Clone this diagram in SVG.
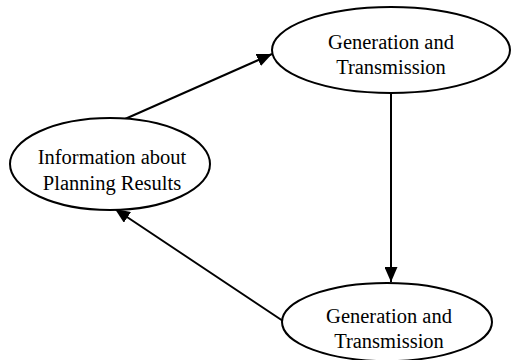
<svg xmlns="http://www.w3.org/2000/svg" width="511" height="360" viewBox="0 0 511 360">
<defs>
<style>
.node ellipse{fill:#fff;stroke:#000;stroke-width:2}
.node text{font-family:"Liberation Serif","Times New Roman",serif;font-size:20.5px;fill:#000;text-anchor:middle}
.conn line{stroke:#000;stroke-width:2}
</style>
<marker id="ah" viewBox="0 0 15 13" refX="15" refY="6.5" markerWidth="15" markerHeight="13" markerUnits="userSpaceOnUse" orient="auto">
<path d="M0,0 L15,6.5 L0,13 z" fill="#000"/>
</marker>
</defs>
<rect width="511" height="360" fill="#fff"/>
<g id="connectors" class="conn">
<line x1="125" y1="119" x2="272" y2="54" marker-end="url(#ah)"/>
<line x1="391" y1="93" x2="391" y2="282" marker-end="url(#ah)"/>
<line x1="283" y1="321" x2="115" y2="209" marker-end="url(#ah)"/>
</g>
<g id="node-top" class="node">
<ellipse cx="391" cy="50" rx="119" ry="43"/>
<text x="391" y="49">Generation and</text>
<text x="391" y="74">Transmission</text>
</g>
<g id="node-left" class="node">
<ellipse cx="110" cy="164" rx="100" ry="46"/>
<text x="112" y="164">Information about</text>
<text x="112" y="190">Planning Results</text>
</g>
<g id="node-bottom" class="node">
<ellipse cx="387" cy="322" rx="105" ry="39"/>
<text x="389" y="323">Generation and</text>
<text x="389" y="348">Transmission</text>
</g>
</svg>
